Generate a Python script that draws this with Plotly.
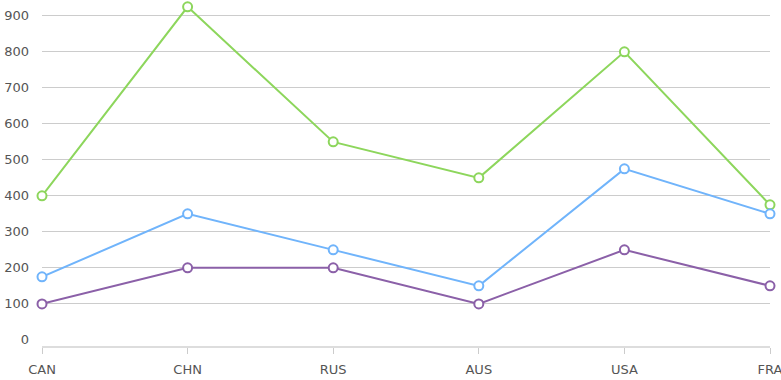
import plotly.graph_objects as go

categories = ["CAN", "CHN", "RUS", "AUS", "USA", "FRA"]
green_vals = [400, 925, 550, 450, 800, 375]
blue_vals = [175, 350, 250, 150, 475, 350]
purple_vals = [100, 200, 200, 100, 250, 150]
grid_ticks = [100, 200, 300, 400, 500, 600, 700, 800, 900]
zero_tick = [0]

series = [
    ("Series 1", green_vals, "#8dd65c"),
    ("Series 2", blue_vals, "#70b4fb"),
    ("Series 3", purple_vals, "#8b60a8"),
]

Y_RANGE = [-17, 944]

fig = go.Figure()
for name, vals, col in series:
    fig.add_trace(go.Scatter(
        x=categories, y=vals, name=name, mode="lines+markers",
        line=dict(color=col, width=2),
        marker=dict(size=9, color="white", line=dict(color=col, width=2)),
        cliponaxis=False,
    ))

fig.update_layout(
    width=781, height=380,
    margin=dict(l=42, r=11, t=0, b=34, autoexpand=False),
    paper_bgcolor="white", plot_bgcolor="white",
    showlegend=False,
    font=dict(family="DejaVu Sans, Verdana, sans-serif", size=13, color="#555555"),
    xaxis=dict(
        type="category", range=[0, 5], automargin=False,
        showgrid=False, showline=True, linecolor="#dddddd", linewidth=2,
        ticks="outside", ticklen=6, tickcolor="#cccccc", ticklabelstandoff=4,
        tickfont=dict(size=13, color="#555555"),
    ),
    yaxis=dict(
        range=Y_RANGE, tickvals=grid_ticks, automargin=False,
        showgrid=True, gridcolor="#cccccc", gridwidth=1,
        zeroline=False, showline=False,
        ticks="", ticklabelstandoff=12,
        tickfont=dict(size=13, color="#555555"),
    ),
    yaxis2=dict(
        range=Y_RANGE, tickvals=zero_tick, overlaying="y", side="left",
        automargin=False, showgrid=False, zeroline=False, showline=False,
        ticks="", ticklabelstandoff=12,
        tickfont=dict(size=13, color="#555555"),
    ),
)
# invisible trace to anchor the second y axis
fig.add_trace(go.Scatter(x=[categories[0]], y=zero_tick, yaxis="y2",
                         mode="markers", marker=dict(opacity=0), hoverinfo="skip",
                         showlegend=False))

fig.write_html(
    "out.html",
    config={"displayModeBar": False},
    post_script="document.body.style.margin='0';document.body.style.overflow='hidden';",
)
